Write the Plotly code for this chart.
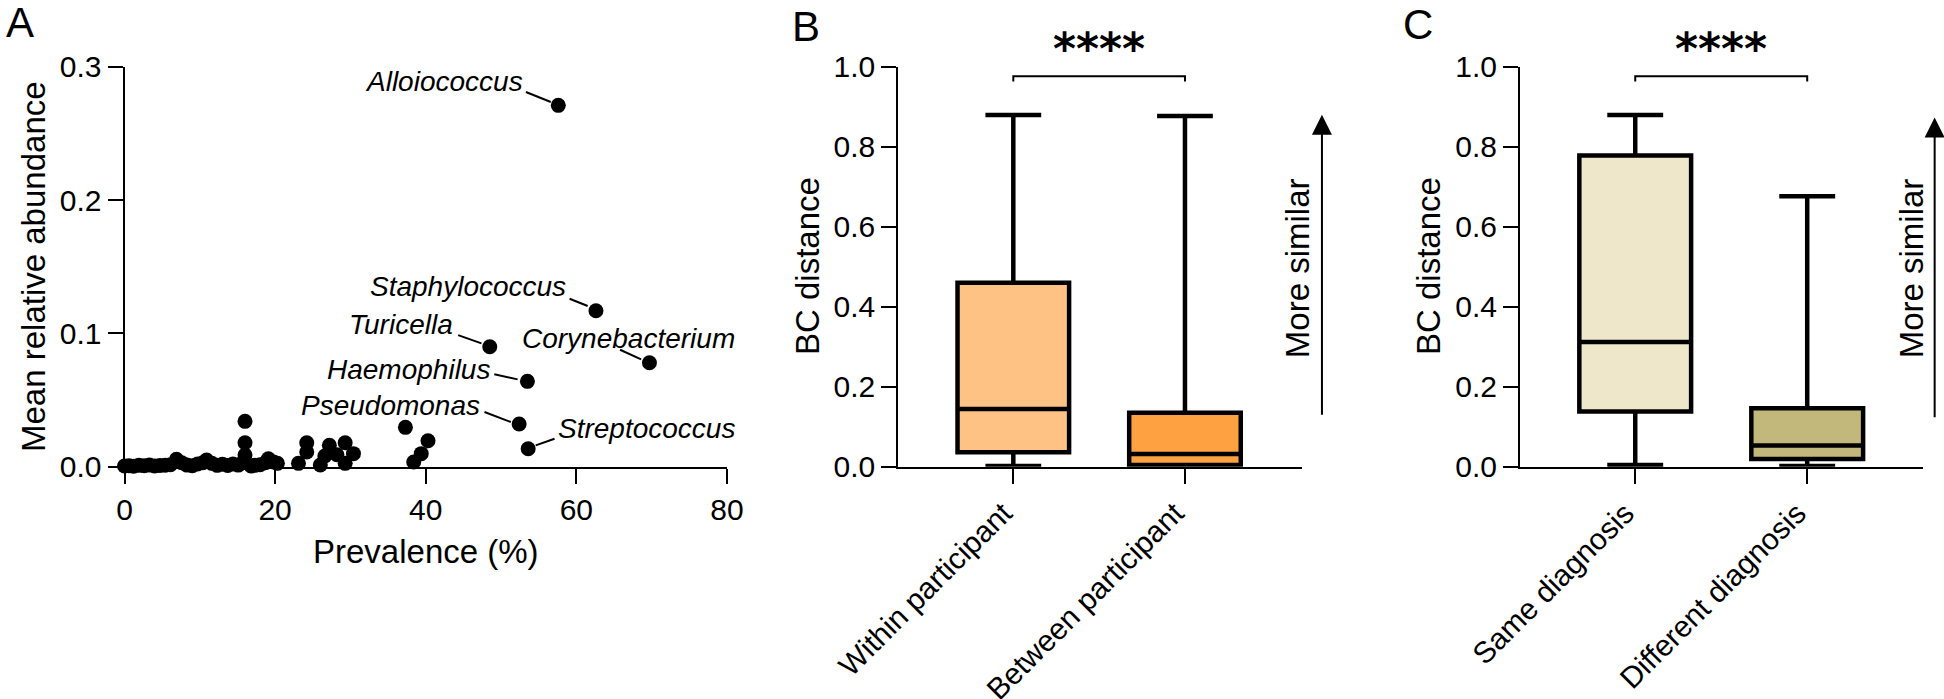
import plotly.graph_objects as go

# ---------------- Panel A data ----------------
prevalence = [0.0, 0.6, 1.2, 1.9, 2.6, 3.3, 4.0, 4.7, 5.4, 6.1, 6.9, 7.6, 8.3, 9.0, 9.7,
              10.4, 10.9, 11.6, 12.3, 13.0, 13.7, 14.4, 15.1, 15.7, 16.0, 16.0, 16.0,
              16.8, 17.3, 18.0, 18.7, 19.1, 19.8, 20.3,
              23.1, 24.2, 24.2, 26.0, 26.6, 27.2, 28.2, 29.3, 29.3, 30.4,
              37.3, 38.4, 39.4, 40.3]
abundance = [0.0005, 0.0008, 0.0004, 0.0010, 0.0007, 0.0012, 0.0006, 0.0009, 0.0011, 0.0015,
             0.0055, 0.0030, 0.0012, 0.0008, 0.0020, 0.0030, 0.0050, 0.0025, 0.0010, 0.0018,
             0.0009, 0.0020, 0.0012, 0.0030, 0.0340, 0.0180, 0.0088,
             0.0005, 0.0010, 0.0015, 0.0030, 0.0060, 0.0035, 0.0025,
             0.0025, 0.0110, 0.0180, 0.0013, 0.0080, 0.0160, 0.0090, 0.0180, 0.0025, 0.0098,
             0.0295, 0.0035, 0.0098, 0.0195]

genus_names = ["Alloiococcus", "Staphylococcus", "Turicella", "Corynebacterium",
               "Haemophilus", "Pseudomonas", "Streptococcus"]
genus_prevalence = [57.6, 62.6, 48.5, 69.7, 53.5, 52.4, 53.6]
genus_abundance = [0.271, 0.117, 0.090, 0.078, 0.064, 0.032, 0.0135]

# ---------------- Panel B data ----------------
b_categories = ["Within participant", "Between participant"]
b_lower = [0.002, 0.001]
b_q1 = [0.036, 0.004]
b_median = [0.144, 0.032]
b_q3 = [0.460, 0.135]
b_upper = [0.879, 0.877]

# ---------------- Panel C data ----------------
c_categories = ["Same diagnosis", "Different diagnosis"]
c_lower = [0.004, 0.002]
c_q1 = [0.138, 0.019]
c_median = [0.312, 0.053]
c_q3 = [0.778, 0.146]
c_upper = [0.879, 0.676]

significance = "****"
arrow_label = "More similar"

# ---------------- styling ----------------
W, H = 1944, 699
FONT = "Liberation Sans, Arial, sans-serif"
b_colors = ["#FFC285", "#FEA140"]
c_colors = ["#EEE7C9", "#C3B87C"]
TICK_SIZE = 30

# pixel geometry of each panel (x pixel span, data range)
Y_BOTTOM, Y_TOP = 466.7, 66.7
AX_A = dict(px=(124.5, 727.0), rng=(0, 80), yrng=(0, 0.3))
AX_B = dict(px=(898.3, 1301.7), rng=(-0.67, 1.68), yrng=(0, 1.0))
AX_C = dict(px=(1520.0, 1923.3), rng=(-0.67, 1.675), yrng=(0, 1.0))


def px(x):
    return x / W


def py(y):
    return 1 - y / H


def to_paper(ax, xv, yv):
    (p0, p1), (r0, r1), (y0, y1) = ax["px"], ax["rng"], ax["yrng"]
    xpix = p0 + (xv - r0) / (r1 - r0) * (p1 - p0)
    ypix = Y_BOTTOM - (yv - y0) / (y1 - y0) * (Y_BOTTOM - Y_TOP)
    return px(xpix), py(ypix)


def ypix_per_unit(ax):
    y0, y1 = ax["yrng"]
    return (Y_BOTTOM - Y_TOP) / (y1 - y0)


fig = go.Figure()

# Panel A scatter
fig.add_trace(go.Scatter(
    x=prevalence + genus_prevalence, y=abundance + genus_abundance,
    mode="markers", marker=dict(color="black", size=15),
    cliponaxis=False, xaxis="x", yaxis="y", hoverinfo="skip", showlegend=False))


def add_boxes(cats, low, q1, med, q3, up, colors, xa, ya):
    for i in range(len(cats)):
        fig.add_trace(go.Box(
            x=[i], lowerfence=[low[i]], q1=[q1[i]], median=[med[i]], q3=[q3[i]],
            upperfence=[up[i]], width=0.65, whiskerwidth=0.5,
            fillcolor=colors[i], line=dict(color="black", width=4.5),
            boxpoints=False, xaxis=xa, yaxis=ya, showlegend=False, hoverinfo="skip"))


add_boxes(b_categories, b_lower, b_q1, b_median, b_q3, b_upper, b_colors, "x2", "y2")
add_boxes(c_categories, c_lower, c_q1, c_median, c_q3, c_upper, c_colors, "x3", "y3")

axis_common = dict(showline=True, linecolor="black", linewidth=2, ticks="outside",
                   ticklen=15, tickwidth=2, tickcolor="black", showgrid=False,
                   zeroline=False, automargin=False,
                   tickfont=dict(family=FONT, size=TICK_SIZE, color="black"))

ydom = [py(Y_BOTTOM), py(Y_TOP)]

fig.update_layout(
    width=W, height=H, margin=dict(l=0, r=0, t=0, b=0),
    template="none", plot_bgcolor="white", paper_bgcolor="white",
    boxmode="overlay", showlegend=False,
    font=dict(family=FONT, color="black"),
    xaxis=dict(domain=[px(AX_A["px"][0]), px(AX_A["px"][1])], range=list(AX_A["rng"]),
               tickvals=[0, 20, 40, 60, 80], anchor="y", **axis_common),
    yaxis=dict(domain=ydom, range=list(AX_A["yrng"]), tickvals=[0, 0.1, 0.2, 0.3],
               tickformat=".1f", anchor="x", **axis_common),
    xaxis2=dict(domain=[px(AX_B["px"][0]), px(AX_B["px"][1])], range=list(AX_B["rng"]),
                tickvals=[0, 1], ticktext=b_categories, tickangle=-45, anchor="y2",
                ticklabelshift=-10, **axis_common),
    yaxis2=dict(domain=ydom, range=list(AX_B["yrng"]), tickvals=[0, 0.2, 0.4, 0.6, 0.8, 1.0],
                tickformat=".1f", anchor="x2", **axis_common),
    xaxis3=dict(domain=[px(AX_C["px"][0]), px(AX_C["px"][1])], range=list(AX_C["rng"]),
                tickvals=[0, 1], ticktext=c_categories, tickangle=-45, anchor="y3",
                ticklabelshift=-10, **axis_common),
    yaxis3=dict(domain=ydom, range=list(AX_C["yrng"]), tickvals=[0, 0.2, 0.4, 0.6, 0.8, 1.0],
                tickformat=".1f", anchor="x3", **axis_common),
)

ann = []
shapes = []

# Panel A genus labels: (text x, text y, anchor, line start, line end) in data units
label_layout = {
    "Alloiococcus": (53.2, 0.2887, "right", (53.3, 0.281), (56.6, 0.2735)),
    "Staphylococcus": (58.9, 0.1353, "right", (59.1, 0.126), (61.5, 0.1205)),
    "Turicella": (43.9, 0.107, "right", (44.3, 0.0987), (47.4, 0.0925)),
    "Corynebacterium": (81.3, 0.096, "right", (65.8, 0.0877), (68.6, 0.0805)),
    "Haemophilus": (48.8, 0.0727, "right", (49.1, 0.0693), (52.2, 0.0655)),
    "Pseudomonas": (47.5, 0.046, "right", (47.8, 0.041), (51.3, 0.0335)),
    "Streptococcus": (57.3, 0.0287, "left", (57.1, 0.021), (54.6, 0.016)),
}
for name in genus_names:
    tx, ty, anc, p0, p1 = label_layout[name]
    ax_, ay_ = to_paper(AX_A, tx, ty)
    ann.append(dict(x=ax_, y=ay_, xref="paper", yref="paper", text=f"<i>{name}</i>",
                    showarrow=False, xanchor=anc, yanchor="middle",
                    font=dict(family=FONT, size=28, color="black")))
    shapes.append(dict(type="line", xref="x", yref="y", x0=p0[0], y0=p0[1], x1=p1[0], y1=p1[1],
                       line=dict(color="black", width=2)))

# axis titles
title_font = dict(family=FONT, size=33, color="black")
ann.append(dict(x=px(34), y=py(267), xref="paper", yref="paper", text="Mean relative abundance",
                textangle=-90, showarrow=False, font=title_font, xanchor="center", yanchor="middle"))
ann.append(dict(x=px(425.7), y=py(551), xref="paper", yref="paper", text="Prevalence (%)",
                showarrow=False, font=title_font, xanchor="center", yanchor="middle"))
for xpix in (807, 1428):
    ann.append(dict(x=px(xpix), y=py(266), xref="paper", yref="paper", text="BC distance",
                    textangle=-90, showarrow=False, font=title_font, xanchor="center", yanchor="middle"))

# panel letters
for letter, xpix, ypix in (("A", 20, 22), ("B", 806, 26), ("C", 1418, 24)):
    ann.append(dict(x=px(xpix), y=py(ypix), xref="paper", yref="paper", text=letter,
                    showarrow=False, font=dict(family=FONT, size=42, color="black"),
                    xanchor="center", yanchor="middle"))

# significance brackets, stars, arrows
for ax, xa, ya, arrow_x, text_x, arrow_bottom, arrow_top in (
        (AX_B, "x2", "y2", 1.798, 1.66, 0.126, 0.88),
        (AX_C, "x3", "y3", 1.741, 1.606, 0.12, 0.873)):
    shapes.append(dict(type="path", xref=xa, yref=ya,
                       path="M 0,0.963 L 0,0.976 L 1,0.976 L 1,0.963",
                       line=dict(color="black", width=2)))
    sx, sy = to_paper(ax, 0.5, 1.045)
    ann.append(dict(x=sx, y=sy, xref="paper", yref="paper", text=f"<b>{significance}</b>",
                    showarrow=False, font=dict(family="DejaVu Sans", size=44, color="black"),
                    xanchor="center", yanchor="middle"))
    tipx, tipy = to_paper(ax, arrow_x, arrow_top)
    ann.append(dict(x=tipx, y=tipy, xref="paper", yref="paper", ax=0,
                    ay=(arrow_top - arrow_bottom) * ypix_per_unit(ax),
                    axref="pixel", ayref="pixel", text="", showarrow=True, arrowhead=2,
                    arrowsize=2, arrowwidth=2, arrowcolor="black", standoff=0,
                    startstandoff=0))
    tx_, ty_ = to_paper(ax, text_x, 0.497)
    ann.append(dict(x=tx_, y=ty_, xref="paper", yref="paper", text=arrow_label, textangle=-90,
                    showarrow=False, font=title_font, xanchor="center", yanchor="middle"))

fig.update_layout(annotations=ann, shapes=shapes)

fig.write_html("out.html", config={"displayModeBar": False},
               post_script="document.body.style.margin='0';")
